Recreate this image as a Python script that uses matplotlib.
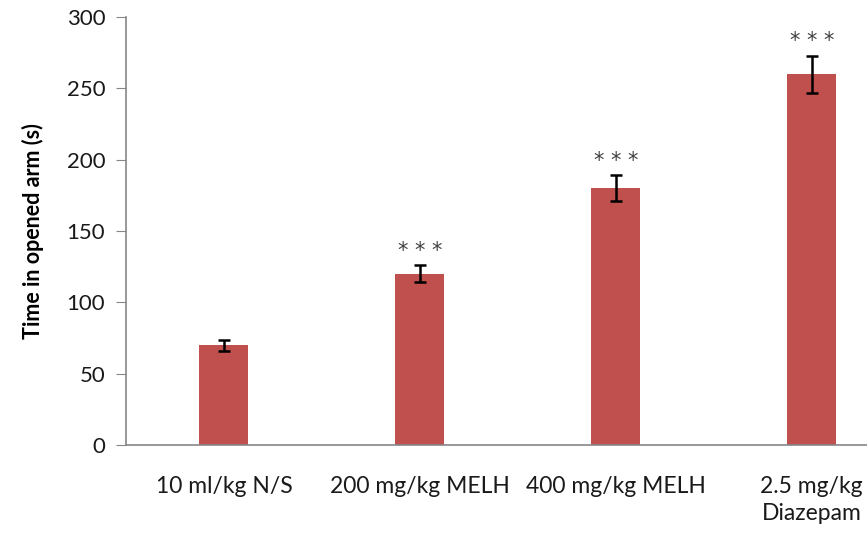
import numpy as np
from matplotlib import pyplot as plt

groups = ['10 ml/kg N/S', '200 mg/kg MELH', '400 mg/kg MELH', '2.5 mg/kg\nDiazepam']
means = [70, 120, 180, 260]
errors = [4, 6, 9, 13]
marks = ['', '* * *', '* * *', '* * *']

plt.rcParams['font.family'] = ['Lato', 'DejaVu Sans']

fig = plt.figure(figsize=(8.67, 5.35), dpi=100)
ax = fig.add_axes([0.1453, 0.168, 0.904, 0.80])

x = np.arange(len(groups))
ax.bar(x, means, width=0.25, color='#C0504D', zorder=2)
ax.errorbar(x, means, yerr=errors, fmt='none', ecolor='black', elinewidth=1.8,
            capsize=4.3, capthick=1.8, zorder=3)
for xi, m, e, s in zip(x, means, errors, marks):
    if s:
        ax.text(xi, m + e + 3, s, ha='center', va='bottom', fontsize=15,
                color='#404040', family='DejaVu Sans')

ax.set_xlim(-0.5, 3.5)
ax.set_ylim(0, 300)
ax.set_yticks(range(0, 301, 50))
ax.set_xticks(x)
ax.set_xticklabels(groups, fontsize=16.5, color='#1a1a1a', linespacing=1.35)
ax.tick_params(axis='y', labelsize=16, labelcolor='#1a1a1a', length=7, color='#868686', pad=8)
ax.tick_params(axis='x', length=0, pad=22)
ax.set_ylabel('Time in opened arm (s)', fontsize=15.5, fontweight='bold', labelpad=16)

for side in ['top', 'right']:
    ax.spines[side].set_visible(False)
for side in ['left', 'bottom']:
    ax.spines[side].set_color('#868686')
    ax.spines[side].set_linewidth(1.2)

plt.savefig('out.png', dpi=100)
